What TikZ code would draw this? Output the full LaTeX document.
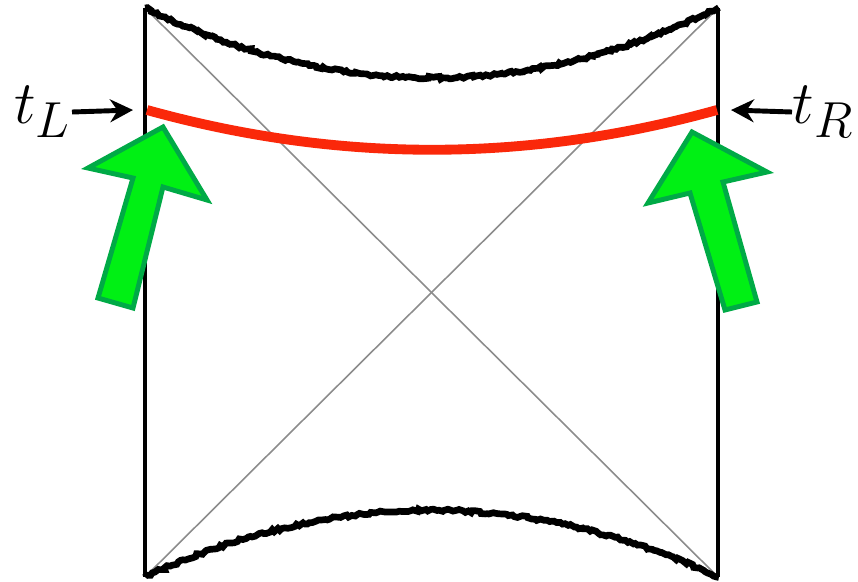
\documentclass[tikz,border=0pt]{standalone}
\usepackage{amsmath,amssymb}
\usepackage{tikz}
\usetikzlibrary{calc,positioning,arrows.meta,decorations.pathmorphing}
\definecolor{redline}{RGB}{250,40,10}
\definecolor{arrowfill}{RGB}{0,240,20}
\definecolor{arrowedge}{RGB}{0,170,70}

\begin{document}
\begin{tikzpicture}[x=0.01cm, y=-0.01cm,
	edge/.style={line width=1.3pt, black},
	horizon/.style={line width=0.45pt, black!45},
	singular/.style={line width=1.9pt, black, decorate,
		decoration={random steps, segment length=0.8pt, amplitude=0.4pt}},
	slice/.style={line width=2.8pt, redline},
	pointer/.style={line width=1.4pt, -{Stealth[length=6.5pt,width=6.5pt]}},
	bigarrow/.style={fill=arrowfill, draw=arrowedge, line width=1.4pt, line join=miter},
	timelabel/.style={inner sep=0pt, font=\fontsize{19}{22}\selectfont}]
				\useasboundingbox (0,0) rectangle (858,581);
				% corners of the diagram
				\coordinate (tl) at (145,8);
				\coordinate (tr) at (718,8);
				\coordinate (bl) at (145,577);
				\coordinate (br) at (718,577);
				
				\draw[horizon] (tl) -- (br);
				\draw[horizon] (tr) -- (bl);
				\draw[edge] (tl) -- (bl);
				\draw[edge] (tr) -- (br);
				\draw[singular] (tl) .. controls (336,101) and (527,101) .. (tr);
				\draw[singular] (bl) .. controls (336,488) and (527,488) .. (br);
				
				% time slice
				\coordinate (sL) at (147,110);
				\coordinate (sR) at (717,110);
				\draw[slice] (sL) .. controls (338,163) and (526,163) .. (sR);
				
				\node[timelabel, anchor=east] (tL) at (72,112) {\(t_L\)};
				\node[timelabel, anchor=west] (tR) at (792,112) {\(t_R\)};
				\coordinate (aL) at (133,110);
				\coordinate (aR) at (731,110);
				\draw[pointer] (tL.east) -- (aL);
				\draw[pointer] (tR.west) -- (aR);
				
				% green arrows
				\draw[bigarrow] (163,127) -- (207,200) -- (163,187) -- (133,308) -- (98,298) -- (133,178) -- (88,168) -- cycle;
				\draw[bigarrow] (692,132) -- (767,172) -- (723,182) -- (757,302) -- (725,310) -- (690,193) -- (648,203) -- cycle;
			\end{tikzpicture}
\end{document}
